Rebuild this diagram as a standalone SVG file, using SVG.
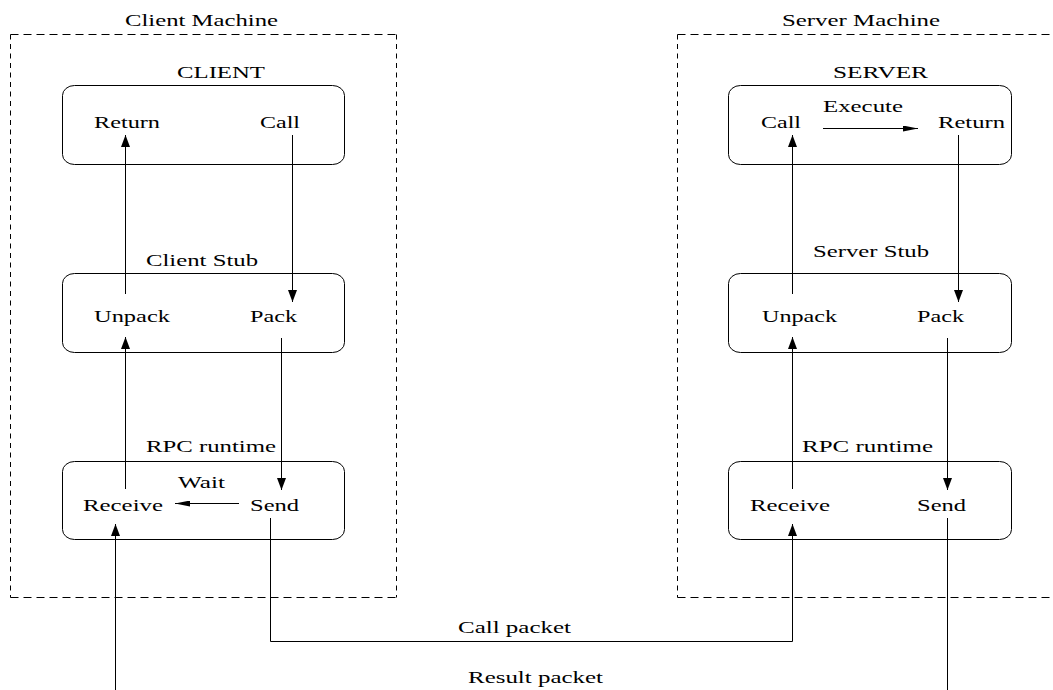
<svg xmlns="http://www.w3.org/2000/svg" width="1053" height="690" viewBox="0 0 1053 690">
<style>
text{font-family:"Liberation Serif","Times New Roman",serif;font-size:17.5px;fill:#000}
.box{fill:none;stroke:#000;stroke-width:1}
.dh{fill:none;stroke:#000;stroke-width:1;stroke-dasharray:8 5}
.dv{fill:none;stroke:#000;stroke-width:1;stroke-dasharray:5 4.5}
.c{fill:none;stroke:#000;stroke-width:1}
.v{marker-end:url(#arrV)}
.h{marker-end:url(#arrH)}
</style>
<defs>
<marker id="arrV" markerUnits="userSpaceOnUse" markerWidth="12" markerHeight="9" refX="12" refY="4.5" orient="auto" viewBox="0 0 12 9"><path d="M0,0 L12,4.5 L0,9 z" fill="#000"/></marker>
<marker id="arrH" markerUnits="userSpaceOnUse" markerWidth="15" markerHeight="6" refX="15" refY="3" orient="auto" viewBox="0 0 15 6"><path d="M0,0 L15,3 L0,6 z" fill="#000"/></marker>
</defs>
<rect width="1053" height="690" fill="#fff"/>

<g id="client-machine">
<line class="dh" x1="10.5" y1="34.5" x2="396.5" y2="34.5"/>
<line class="dh" x1="10.5" y1="597.5" x2="396.5" y2="597.5"/>
<line class="dv" x1="10.5" y1="34.5" x2="10.5" y2="597.5"/>
<line class="dv" x1="396.5" y1="34.5" x2="396.5" y2="597.5"/>
<text x="125" y="26" textLength="153" lengthAdjust="spacingAndGlyphs">Client Machine</text>
</g>
<g id="server-machine">
<line class="dh" x1="677.5" y1="34.5" x2="1053" y2="34.5"/>
<line class="dh" x1="677.5" y1="597.5" x2="1053" y2="597.5"/>
<line class="dv" x1="677.5" y1="34.5" x2="677.5" y2="597.5"/>
<text x="782" y="26" textLength="158" lengthAdjust="spacingAndGlyphs">Server Machine</text>
</g>

<g id="client">
<rect class="box" x="62.5" y="85.5" width="282" height="79" rx="12" ry="10"/>
<text x="177" y="78" textLength="88" lengthAdjust="spacingAndGlyphs">CLIENT</text>
<text x="94" y="128" textLength="66" lengthAdjust="spacingAndGlyphs">Return</text>
<text x="260" y="128" textLength="40" lengthAdjust="spacingAndGlyphs">Call</text>
</g>
<g id="client-stub">
<rect class="box" x="62.5" y="273.5" width="282" height="79" rx="12" ry="10"/>
<text x="146" y="266" textLength="112" lengthAdjust="spacingAndGlyphs">Client Stub</text>
<text x="94" y="322" textLength="76" lengthAdjust="spacingAndGlyphs">Unpack</text>
<text x="250" y="322" textLength="47" lengthAdjust="spacingAndGlyphs">Pack</text>
</g>
<g id="client-runtime">
<rect class="box" x="62.5" y="461.5" width="282" height="78" rx="12" ry="10"/>
<text x="146" y="452" textLength="130" lengthAdjust="spacingAndGlyphs">RPC runtime</text>
<text x="178" y="488" textLength="47" lengthAdjust="spacingAndGlyphs">Wait</text>
<text x="83" y="511" textLength="80" lengthAdjust="spacingAndGlyphs">Receive</text>
<text x="250" y="511" textLength="49" lengthAdjust="spacingAndGlyphs">Send</text>
</g>

<g id="server">
<rect class="box" x="728.5" y="85.5" width="283" height="79" rx="12" ry="10"/>
<text x="833" y="78" textLength="95" lengthAdjust="spacingAndGlyphs">SERVER</text>
<text x="761" y="128" textLength="40" lengthAdjust="spacingAndGlyphs">Call</text>
<text x="823" y="112" textLength="80" lengthAdjust="spacingAndGlyphs">Execute</text>
<text x="938" y="128" textLength="67" lengthAdjust="spacingAndGlyphs">Return</text>
</g>
<g id="server-stub">
<rect class="box" x="728.5" y="273.5" width="283" height="79" rx="12" ry="10"/>
<text x="813" y="257" textLength="116" lengthAdjust="spacingAndGlyphs">Server Stub</text>
<text x="762" y="322" textLength="75" lengthAdjust="spacingAndGlyphs">Unpack</text>
<text x="917" y="322" textLength="47" lengthAdjust="spacingAndGlyphs">Pack</text>
</g>
<g id="server-runtime">
<rect class="box" x="728.5" y="461.5" width="283" height="78" rx="12" ry="10"/>
<text x="802" y="452" textLength="131" lengthAdjust="spacingAndGlyphs">RPC runtime</text>
<text x="750" y="511" textLength="80" lengthAdjust="spacingAndGlyphs">Receive</text>
<text x="917" y="511" textLength="49" lengthAdjust="spacingAndGlyphs">Send</text>
</g>

<g id="connectors">
<line class="c v" x1="125.5" y1="294" x2="125.5" y2="135"/>
<line class="c v" x1="292.5" y1="135" x2="292.5" y2="302"/>
<line class="c v" x1="125.5" y1="489" x2="125.5" y2="337"/>
<line class="c v" x1="281.5" y1="338" x2="281.5" y2="490"/>
<line class="c h" x1="239" y1="503.5" x2="175" y2="503.5"/>
<line class="c v" x1="115.5" y1="690" x2="115.5" y2="524"/>
<polyline class="c v" points="270.5,518 270.5,641.5 792.5,641.5 792.5,524"/>
<line class="c h" x1="823" y1="128.5" x2="918" y2="128.5"/>
<line class="c v" x1="792.5" y1="294" x2="792.5" y2="135"/>
<line class="c v" x1="958.5" y1="135" x2="958.5" y2="302"/>
<line class="c v" x1="792.5" y1="489" x2="792.5" y2="337"/>
<line class="c v" x1="947.5" y1="338" x2="947.5" y2="490"/>
<line class="c" x1="947.5" y1="518" x2="947.5" y2="690"/>
<text x="458" y="633" textLength="113" lengthAdjust="spacingAndGlyphs">Call packet</text>
<text x="468" y="683" textLength="135" lengthAdjust="spacingAndGlyphs">Result packet</text>
</g>
</svg>
